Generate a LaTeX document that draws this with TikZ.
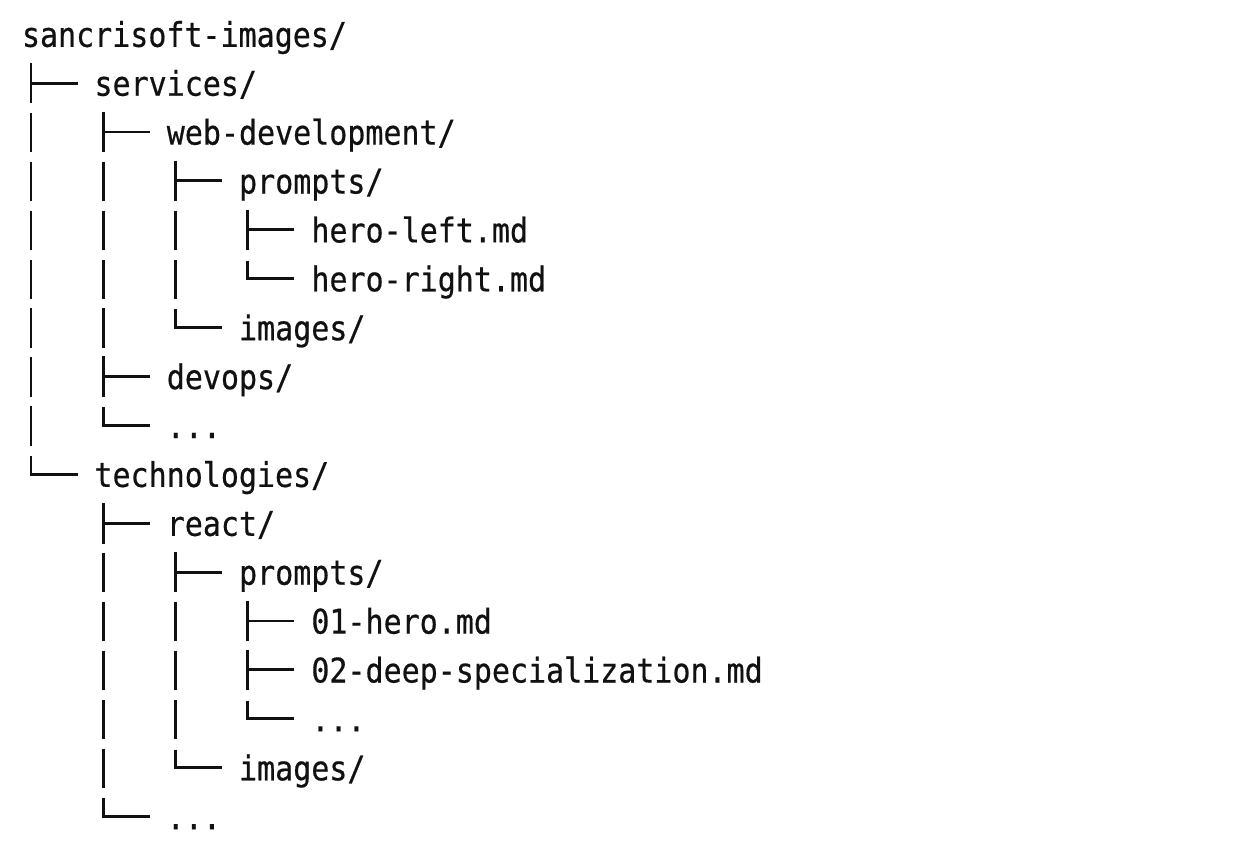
\documentclass[tikz,border=0pt]{standalone}
\usepackage{fontspec}
\newfontfamily\treefont[FakeStretch=0.882,FakeBold=0.5]{DejaVu Sans Mono}
\definecolor{ink}{HTML}{111111}
\tikzset{
  treelabel/.style={anchor=base west,inner sep=0pt,outer sep=0pt,text=ink,font=\treefont\fontsize{34}{34}\selectfont},
  branch/.style={draw=ink,line width=2.9pt,line cap=butt,line join=miter}
}
\newcommand{\colx}[1]{31+72.3*(#1)}
\newcommand{\basey}[1]{-(46+48.9*(#1))}
\newcommand{\lab}[4]{\node[treelabel] (#3) at ({94.5+72.3*#1},{\basey{#2}-0.8}) {#4};}
\begin{document}
\begin{tikzpicture}[x=1pt,y=1pt]
\useasboundingbox (0,0) rectangle (1253,-848);
\fill[white] (0,0) rectangle (1253,-848);
\node[treelabel] (root) at (22,{\basey{0}-0.8}) {sancrisoft-images/};
\lab{0}{1}{services}{services/}
\lab{1}{2}{webdev}{web-development/}
\lab{2}{3}{promptsa}{prompts/}
\lab{3}{4}{heroleft}{hero-left.md}
\lab{3}{5}{heroright}{hero-right.md}
\lab{2}{6}{imagesa}{images/}
\lab{1}{7}{devops}{devops/}
\lab{1}{8}{moreb}{...}
\lab{0}{9}{tech}{technologies/}
\lab{1}{10}{react}{react/}
\lab{2}{11}{promptsb}{prompts/}
\lab{3}{12}{hero}{01-hero.md}
\lab{3}{13}{deep}{02-deep-specialization.md}
\lab{3}{14}{morec}{...}
\lab{2}{15}{imagesb}{images/}
\lab{1}{16}{mored}{...}
% pipes: column / row
\foreach \c/\r in {0/2,0/3,1/3,0/4,1/4,2/4,0/5,1/5,2/5,0/6,1/6,0/7,0/8,
                   1/11,1/12,2/12,1/13,2/13,1/14,2/14,1/15}{
  \coordinate (p\c-\r-a) at ({\colx{\c}},{\basey{\r}+31});
  \coordinate (p\c-\r-b) at ({\colx{\c}},{\basey{\r}-8.5});
  \draw[branch] (p\c-\r-a) -- (p\c-\r-b);
}
% tees: column / row
\foreach \c/\r in {0/1,1/2,2/3,3/4,1/7,1/10,2/11,3/12,3/13}{
  \coordinate (t\c-\r-a) at ({\colx{\c}},{\basey{\r}+32});
  \coordinate (t\c-\r-b) at ({\colx{\c}},{\basey{\r}-8.5});
  \coordinate (t\c-\r-m) at ({\colx{\c}},{\basey{\r}+11.8});
  \coordinate (t\c-\r-e) at ({\colx{\c}+46.5},{\basey{\r}+11.8});
  \draw[branch] (t\c-\r-a) -- (t\c-\r-b);
  \draw[branch] (t\c-\r-m) -- (t\c-\r-e);
}
% elbows: column / row
\foreach \c/\r in {3/5,2/6,1/8,0/9,3/14,2/15,1/16}{
  \coordinate (e\c-\r-a) at ({\colx{\c}},{\basey{\r}+30});
  \coordinate (e\c-\r-m) at ({\colx{\c}},{\basey{\r}+11.8});
  \coordinate (e\c-\r-e) at ({\colx{\c}+46.5},{\basey{\r}+11.8});
  \draw[branch] (e\c-\r-a) -- (e\c-\r-m) -- (e\c-\r-e);
}
\end{tikzpicture}
\end{document}
